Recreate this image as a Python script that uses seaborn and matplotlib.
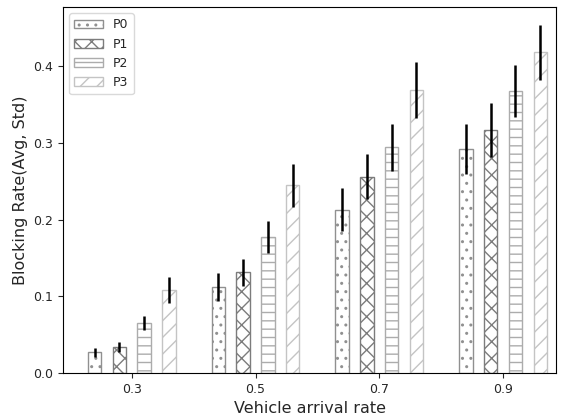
import matplotlib
matplotlib.use("Agg")
import matplotlib.pyplot as plt
import seaborn as sns
import pandas as pd
import numpy as np

rates = ["0.3", "0.5", "0.7", "0.9"]
policies = ["P0", "P1", "P2", "P3"]
p0_mean = [0.027, 0.112, 0.213, 0.292]
p1_mean = [0.034, 0.131, 0.256, 0.317]
p2_mean = [0.065, 0.177, 0.294, 0.368]
p3_mean = [0.108, 0.245, 0.369, 0.418]
p0_std = [0.006, 0.018, 0.028, 0.033]
p1_std = [0.007, 0.018, 0.029, 0.035]
p2_std = [0.009, 0.021, 0.031, 0.034]
p3_std = [0.017, 0.028, 0.036, 0.036]

means = [p0_mean, p1_mean, p2_mean, p3_mean]
stds = [p0_std, p1_std, p2_std, p3_std]
hatches = ["..", "xx", "--", "//"]
edges = ["#909090", "#7c7c7c", "#acacac", "#c4c4c4"]

rows = []
for p, m in zip(policies, means):
    for r, v in zip(rates, m):
        rows.append({"rate": r, "policy": p, "value": v})
df = pd.DataFrame(rows)

sns.set_style("ticks")
plt.rcParams["font.family"] = ["DejaVu Sans"]
plt.rcParams["hatch.linewidth"] = 1.0

fig = plt.figure(figsize=(5.69, 4.2), dpi=100)
ax = fig.add_axes([0.111, 0.112, 0.866, 0.871])

sns.barplot(data=df, x="rate", y="value", hue="policy", order=rates,
            hue_order=policies, width=0.8, gap=0.46, errorbar=None,
            palette=["white"] * 4, ax=ax, legend=True)

bar_conts = list(ax.containers)
for i, cont in enumerate(bar_conts):
    xs = []
    hs = []
    for bar in cont.patches:
        bar.set_facecolor("white")
        bar.set_edgecolor(edges[i])
        bar.set_hatch(hatches[i])
        bar.set_linewidth(1.0)
        xs.append(bar.get_x() + bar.get_width() / 2)
        hs.append(bar.get_height())
    ax.errorbar(xs, hs, yerr=stds[i], fmt="none", ecolor="black",
                elinewidth=1.8, capsize=0, zorder=5)

leg = ax.legend(loc="upper left", frameon=True, fontsize=9,
                handlelength=2.3)
for i, h in enumerate(leg.legend_handles):
    h.set_facecolor("white")
    h.set_edgecolor(edges[i])
    h.set_hatch(hatches[i])
leg.get_frame().set_edgecolor("#d0d0d0")

ax.set_xlim(-0.554, 3.427)
ax.set_ylim(0, 0.477)
ax.set_yticks([0.0, 0.1, 0.2, 0.3, 0.4])
ax.set_xlabel("Vehicle arrival rate", fontsize=11.5)
ax.set_ylabel("Blocking Rate(Avg, Std)", fontsize=11.5)
ax.tick_params(labelsize=9)
for s in ax.spines.values():
    s.set_visible(True)
    s.set_color("black")

fig.savefig("out.png", dpi=100)
